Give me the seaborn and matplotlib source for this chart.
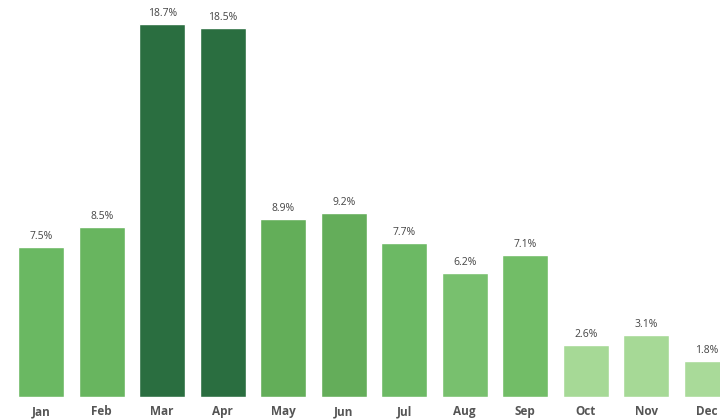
import matplotlib
matplotlib.use("Agg")
import matplotlib.pyplot as plt
import seaborn as sns
import pandas as pd

months = ["Jan", "Feb", "Mar", "Apr", "May", "Jun", "Jul", "Aug", "Sep", "Oct", "Nov", "Dec"]
shares = [7.5, 8.5, 18.7, 18.5, 8.9, 9.2, 7.7, 6.2, 7.1, 2.6, 3.1, 1.8]
colors = ["#6ab862", "#68b55f", "#2a6e40", "#2a6e40", "#63ae59", "#64ad5a",
          "#6cb964", "#78c06e", "#72bd67", "#a6d996", "#a6d996", "#a9da99"]

df = pd.DataFrame({"month": months, "share": shares})

sns.set_theme(style="white")
plt.rcParams["font.family"] = ["Open Sans", "DejaVu Sans"]

fig = plt.figure(figsize=(7.2, 4.2), dpi=100)
ax = fig.add_axes([0, 23 / 420, 1, 397 / 420])

sns.barplot(data=df, x="month", y="share", hue="month", palette=colors,
            legend=False, width=0.76, saturation=1, ax=ax)

for i, v in enumerate(shares):
    ax.text(i, v + 0.25, f"{v}%", ha="center", va="bottom",
            fontsize=7.5, color="#444444")

ax.set_xlim(-0.68, 11.22)
ax.set_ylim(0, 19.9)
ax.set_xlabel("")
ax.set_ylabel("")
ax.set_yticks([])
ax.tick_params(axis="x", length=0, pad=6, labelsize=8.5, labelcolor="#555555")
for lbl in ax.get_xticklabels():
    lbl.set_fontweight("bold")
for s in ax.spines.values():
    s.set_visible(False)

fig.savefig("out.png", dpi=100, facecolor="white")
